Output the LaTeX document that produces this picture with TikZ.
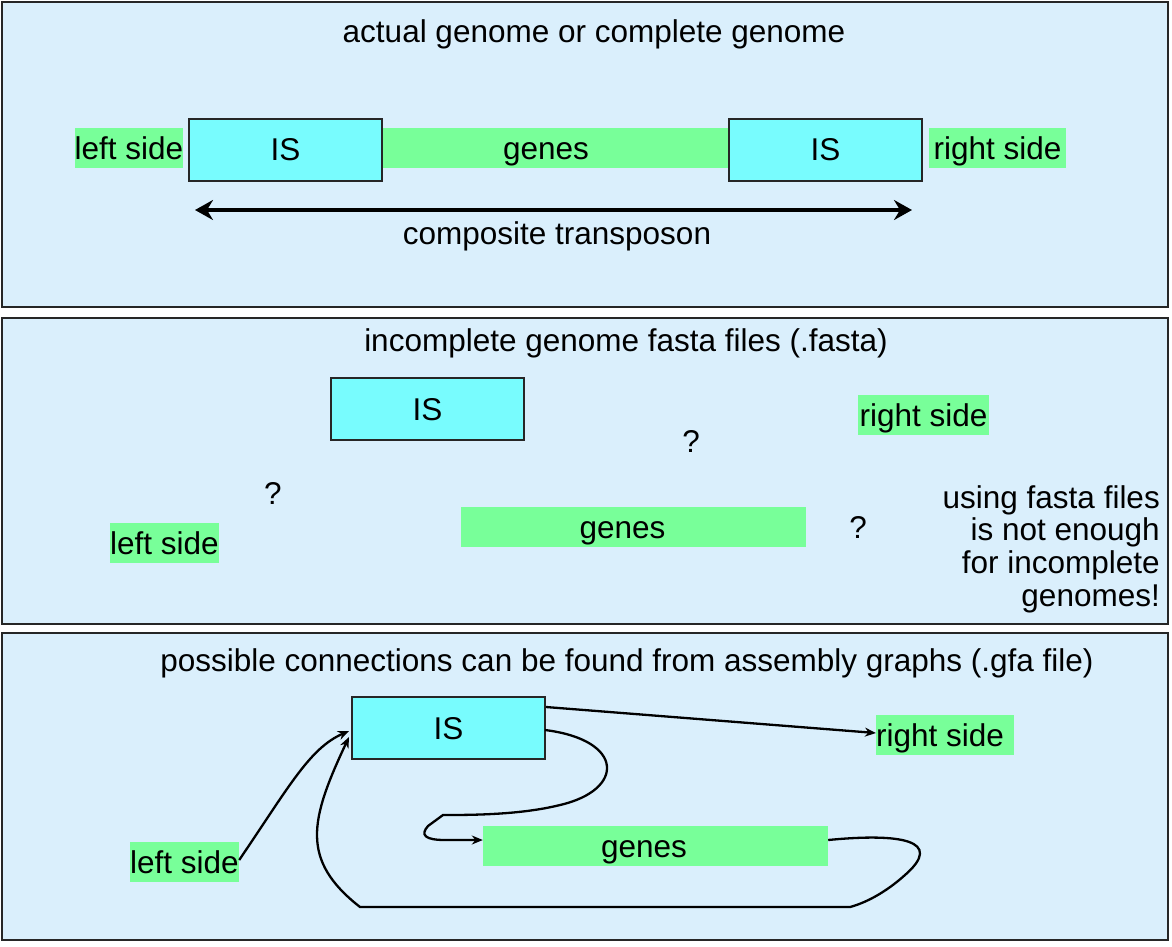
\documentclass[tikz,border=0pt]{standalone}
\usepackage{fontspec}
\setmainfont{Liberation Sans}
\usetikzlibrary{arrows.meta}
\definecolor{panelbg}{HTML}{DAEFFC}
\definecolor{iscyan}{HTML}{78FCFE}
\definecolor{genegreen}{HTML}{78FF99}
\tikzset{
  every node/.style={font=\fontsize{31.5}{32.7}\selectfont, inner sep=0pt},
  panel/.style={draw=black!85, line width=1.8pt, fill=panelbg},
  isbox/.style={draw=black!85, line width=2pt, fill=iscyan, minimum width=193pt, minimum height=62pt, text height=22.7pt, text depth=0pt},
  gbox/.style={fill=genegreen, minimum height=40pt, text height=22.7pt, text depth=0pt},
  conn/.style={line width=2.3pt, -{Stealth[length=11pt,width=9pt]}},
}
\begin{document}
\begin{tikzpicture}[x=1pt,y=-1pt]
\useasboundingbox[fill=white] (0,0) rectangle (1172,946);
% panels
\path[panel] (2,2) rectangle (1168,307);
\path[panel] (2,318) rectangle (1168,624);
\path[panel] (2,633) rectangle (1168,940);

% ---- panel 1
\node[anchor=base] (t1) at (594,42) {actual genome or complete genome};
\node[gbox, minimum width=106pt] (ls1) at (129,148) {left side};
\node[gbox, minimum width=370pt] (gn1) at (546,148) {genes};
\node[isbox] (is1) at (285.5,149.5) {IS};
\node[isbox] (is2) at (825.5,149.5) {IS};
\node[gbox, minimum width=137pt] (rs1) at (997.5,148) {right side};
\coordinate (al) at (195,210);
\coordinate (ar) at (912,210);
\draw[line width=4.6pt, {Stealth[length=18pt,width=20pt,inset=6pt]}-{Stealth[length=18pt,width=20pt,inset=6pt]}] (al) -- (ar);
\node[anchor=base] (ct) at (557,244) {composite transposon};

% ---- panel 2
\node[anchor=base] (t2) at (626,351) {incomplete genome fasta files (.fasta)};
\node[isbox] (is3) at (427.5,409) {IS};
\node[gbox, minimum width=131pt] (rs2) at (923.5,415) {right side};
\node[anchor=base] (q1) at (691,452) {?};
\node[anchor=base] (q2) at (273,504) {?};
\node[gbox, minimum width=105pt] (ls2) at (164.5,543) {left side};
\node[gbox, minimum width=345pt] (gn2) at (633.5,527) {genes\hspace*{22pt}};
\node[anchor=base] (q3) at (858,538) {?};
\node[anchor=east, align=right] (note) at (1160,549) {using fasta files\\is not enough\\for incomplete\\genomes!};

% ---- panel 3
\node[anchor=base] (t3) at (627,671) {possible connections can be found from assembly graphs (.gfa file)};
\node[isbox] (is4) at (448.5,728) {IS};
\node[gbox, minimum width=130pt] (rs3) at (945,735) {right side\hspace*{10pt}};
\node[gbox, minimum width=345pt] (gn3) at (655.5,846) {genes\hspace*{23pt}};
\node[gbox, minimum width=109pt] (ls3) at (184.5,862) {left side};

% connectors
\draw[conn] ([yshift=-11pt]is4.north east) -- ([yshift=2pt]rs3.west);
\draw[conn] ([yshift=2pt]ls3.east) .. controls (290,785) and (310,748) .. ([xshift=-2pt,yshift=-3pt]is4.west);
\draw[conn] ([xshift=-1pt,yshift=-2pt]is4.east) .. controls (625,740) and (625,790) .. (560,805)
   .. controls (520,815) and (470,815) .. (443,815) -- (428,826)
   .. controls (420,835) and (425,840) .. (445,840) -- ([yshift=6pt]gn3.west);
\draw[conn] ([yshift=6pt]gn3.east) .. controls (900,833) and (945,840) .. (905,875)
   .. controls (885,893) and (865,903) .. (850,907) -- (360,907)
   .. controls (300,860) and (310,820) .. ([xshift=-2pt,yshift=-9pt]is4.west);
\end{tikzpicture}
\end{document}
